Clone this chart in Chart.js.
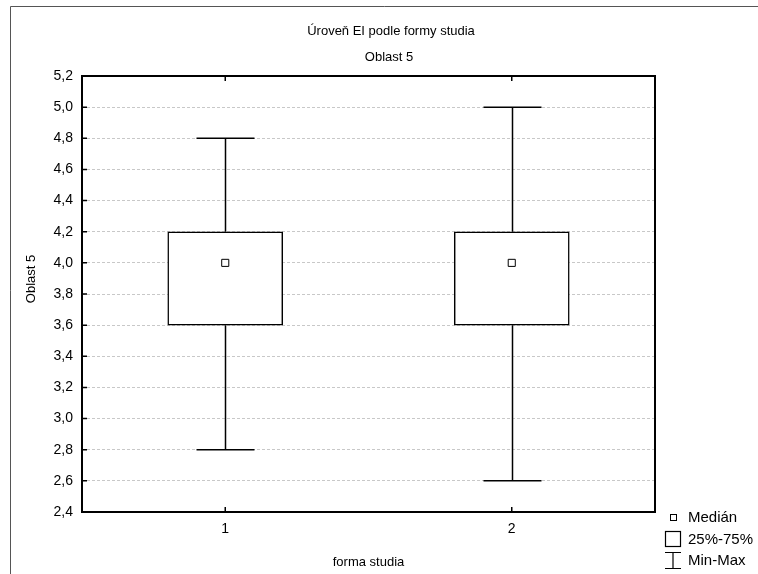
<!DOCTYPE html>
<html>
<head>
<meta charset="utf-8">
<script src="https://cdn.jsdelivr.net/npm/chart.js@4.4.1/dist/chart.umd.min.js"></script>
<style>
  html, body { margin: 0; padding: 0; background: #fff; }
  #wrap { width: 758px; height: 574px; }
</style>
</head>
<body>
<div id="wrap"><canvas id="chart" width="758" height="574"></canvas></div>
<script>
// Data
const groups = [1, 2];
const groupLabels = ['1', '2'];
const minValues = [2.8, 2.6];
const q1Values = [3.6, 3.6];
const medianValues = [4.0, 4.0];
const q3Values = [4.2, 4.2];
const maxValues = [4.8, 5.0];
const legendLabels = ['Medián', '25%-75%', 'Min-Max'];

const FONT = '"Liberation Sans", Arial, sans-serif';

// whiskers, frame, inward ticks, titles and legend
const extras = {
    id: 'extras',
    beforeDatasetsDraw(chart) {
        const ctx = chart.ctx;
        const x = chart.scales.x, y = chart.scales.y;
        ctx.save();
        ctx.strokeStyle = '#000';
        ctx.lineWidth = 1.5;
        groups.forEach((g, i) => {
            const px = Math.round(x.getPixelForValue(g)) + 0.5;
            const half = 29;
            const yMin = y.getPixelForValue(minValues[i]);
            const yMax = y.getPixelForValue(maxValues[i]);
            ctx.beginPath();
            ctx.moveTo(px, yMax); ctx.lineTo(px, y.getPixelForValue(q3Values[i]));
            ctx.moveTo(px, y.getPixelForValue(q1Values[i])); ctx.lineTo(px, yMin);
            ctx.moveTo(px - half, yMax); ctx.lineTo(px + half, yMax);
            ctx.moveTo(px - half, yMin); ctx.lineTo(px + half, yMin);
            ctx.stroke();
        });
        ctx.restore();
    },
    afterDraw(chart) {
        const ctx = chart.ctx;
        const a = chart.chartArea;
        const x = chart.scales.x, y = chart.scales.y;
        ctx.save();
        // outer frame (left and top only, rest is cut off)
        ctx.strokeStyle = '#555';
        ctx.lineWidth = 1;
        ctx.beginPath();
        ctx.moveTo(10.5, 574); ctx.lineTo(10.5, 6.5); ctx.lineTo(758, 6.5);
        ctx.stroke();
        // plot border
        ctx.strokeStyle = '#000';
        ctx.lineWidth = 2;
        ctx.strokeRect(a.left, a.top, a.right - a.left, a.bottom - a.top);
        // inward ticks
        ctx.lineWidth = 1.5;
        ctx.beginPath();
        y.ticks.forEach(t => {
            const py = y.getPixelForValue(t.value);
            ctx.moveTo(a.left, py); ctx.lineTo(a.left + 5, py);
        });
        x.ticks.forEach(t => {
            const px = x.getPixelForValue(t.value);
            ctx.moveTo(px, a.bottom); ctx.lineTo(px, a.bottom - 5);
            ctx.moveTo(px, a.top); ctx.lineTo(px, a.top + 5);
        });
        ctx.stroke();
        // titles
        ctx.fillStyle = '#000';
        ctx.font = '13px ' + FONT;
        ctx.textAlign = 'center';
        ctx.textBaseline = 'middle';
        ctx.fillText('Úroveň EI podle formy studia', 391, 31);
        ctx.fillText('Oblast 5', 389, 57);
        // y axis title
        ctx.save();
        ctx.translate(31, 279);
        ctx.rotate(-Math.PI / 2);
        ctx.fillText('Oblast 5', 0, 0);
        ctx.restore();
        // legend
        ctx.font = '15px ' + FONT;
        ctx.textAlign = 'left';
        ctx.lineWidth = 1;
        ctx.strokeRect(670.5, 514.5, 6, 6);
        ctx.fillText(legendLabels[0], 688, 518);
        ctx.lineWidth = 1.2;
        ctx.strokeRect(665.5, 531.5, 15, 15);
        ctx.fillText(legendLabels[1], 688, 540);
        ctx.beginPath();
        ctx.moveTo(665, 552.5); ctx.lineTo(681, 552.5);
        ctx.moveTo(673, 552.5); ctx.lineTo(673, 568.5);
        ctx.moveTo(665, 568.5); ctx.lineTo(681, 568.5);
        ctx.stroke();
        ctx.fillText(legendLabels[2], 688, 561);
        ctx.restore();
    }
};

new Chart(document.getElementById('chart'), {
    type: 'bar',
    data: {
        datasets: [
            {
                type: 'scatter',
                data: groups.map((g, i) => ({ x: g, y: medianValues[i] })),
                pointStyle: 'rect',
                pointRadius: 5,
                pointBackgroundColor: '#fff',
                pointBorderColor: '#000',
                pointBorderWidth: 1,
                order: 0
            },
            {
                type: 'bar',
                data: groups.map((g, i) => ({ x: g, y: [q1Values[i], q3Values[i]] })),
                backgroundColor: '#fff',
                borderColor: '#000',
                borderWidth: 1.5,
                borderSkipped: false,
                barThickness: 115,
                order: 1
            }
        ]
    },
    options: {
        responsive: false,
        animation: false,
        layout: { padding: { left: 0, right: 103, top: 76, bottom: 0 } },
        plugins: { legend: { display: false }, tooltip: { enabled: false } },
        scales: {
            x: {
                type: 'linear',
                min: 0.5,
                max: 2.5,
                offset: false,
                afterBuildTicks(scale) { scale.ticks = groups.map(v => ({ value: v })); },
                afterFit(scale) { scale.height = 62; },
                grid: { display: false, drawTicks: false, offset: false },
                border: { display: false },
                ticks: {
                    padding: 9,
                    color: '#000',
                    font: { family: FONT, size: 14 },
                    callback: (v) => groupLabels[groups.indexOf(v)]
                },
                title: {
                    display: true,
                    text: 'forma studia',
                    color: '#000',
                    font: { family: FONT, size: 13 },
                    padding: { top: 12 }
                }
            },
            y: {
                min: 2.4,
                max: 5.2,
                afterFit(scale) { scale.width = 82; },
                grid: {
                    drawTicks: false,
                    color: '#c8c8c8',
                    lineWidth: 1
                },
                border: { display: false, dash: [3, 2] },
                ticks: {
                    stepSize: 0.2,
                    padding: 9,
                    color: '#000',
                    font: { family: FONT, size: 14 },
                    callback: (v) => v.toFixed(1).replace('.', ',')
                }
            }
        }
    },
    plugins: [extras]
});
</script>
</body>
</html>
